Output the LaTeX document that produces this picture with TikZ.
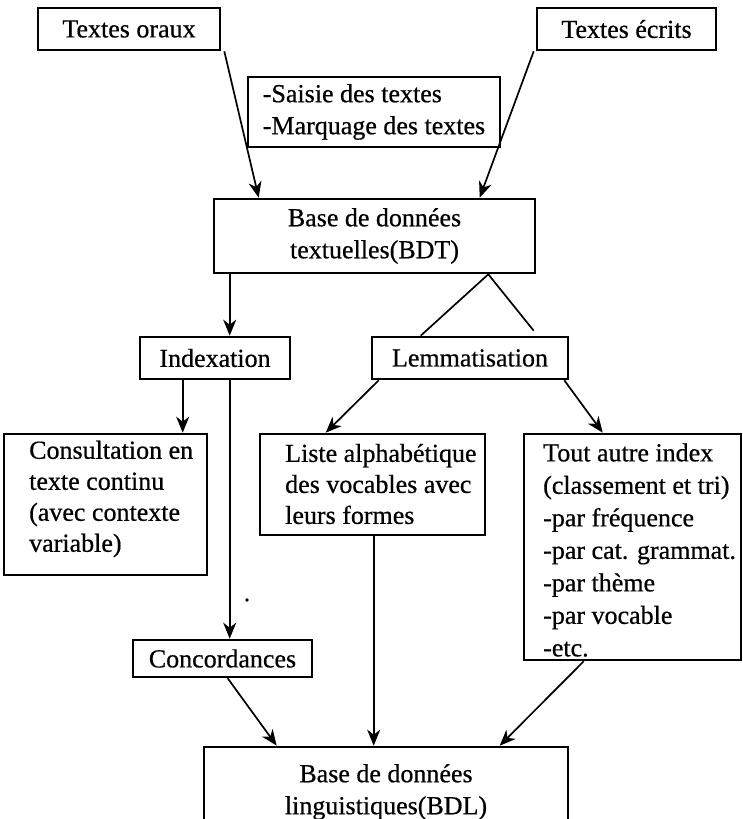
\documentclass[tikz,border=0pt]{standalone}
\usepackage{fontspec}
\setmainfont{Liberation Serif}[FakeBold=0.6]
\usetikzlibrary{arrows.meta,calc}
\begin{document}
\begin{tikzpicture}[x=1pt,y=-1pt,
  box/.style={draw, line width=2.6pt, inner sep=0pt, font=\fontsize{26}{32}\selectfont},
  txt/.style={inner sep=0pt, align=left, anchor=west, font=\fontsize{26}{31}\selectfont},
  conn/.style={line width=1.7pt},
  arr/.style={conn, -{Stealth[length=16pt,width=13pt,inset=5pt]}}]
\useasboundingbox (0,0) rectangle (743,819);
\clip (0,0) rectangle (743,819);

% boxes
\node[box, minimum width=182pt, minimum height=42pt] (oraux) at (129,29) {Textes oraux};
\node[box, minimum width=179pt, minimum height=42pt] (ecrits) at (626.5,29) {Textes écrits};
\node[box, align=left, minimum width=252pt, minimum height=70pt] (saisie) at (374,112) {-Saisie des textes\\-Marquage des textes};
\node[box, align=center, minimum width=321pt, minimum height=74pt] (bdt) at (374.5,236) {Base de données\\textuelles(BDT)};
\node[box, minimum width=150pt, minimum height=42pt] (index) at (215,358) {Indexation};
\node[box, minimum width=196pt, minimum height=42pt] (lemma) at (470,358) {Lemmatisation};
\node[box, minimum width=203pt, minimum height=141pt] (cons) at (105.5,504.5) {};
\node[txt] (constxt) at (29,499) {Consultation en\\texte continu\\(avec contexte\\variable)};
\node[box, minimum width=225pt, minimum height=101pt] (liste) at (372.5,484.5) {};
\node[txt] (listetxt) at (285,484) {Liste alphabétique\\des vocables avec\\leurs formes};
\node[box, minimum width=217pt, minimum height=226pt] (tout) at (632.5,547) {};
\node[txt, font=\fontsize{26}{32.5}\selectfont] (touttxt) at (543,550) {Tout autre index\\(classement et tri)\\-par fréquence\\-par cat. grammat.\\-par thème\\-par vocable\\-etc.};
\node[box, minimum width=179pt, minimum height=37pt] (conc) at (222.5,658.5) {Concordances};
\node[box, align=center, minimum width=364pt, minimum height=90pt] (bdl) at (386,792) {Base de données\\linguistiques(BDL)};

% connectors
\draw[arr] ($(oraux.south east)+(3,0)$) -- ($(bdt.north west)+(46,0)$);
\draw[arr] ($(ecrits.south west)+(-2,0)$) -- ($(bdt.north west)+(267,0)$);
\draw[arr] ($(bdt.south west)+(17,0)$) -- ($(index.north west)+(91,0)$);
\coordinate (apex) at ($(bdt.south east)+(-48,0)$);
\draw[conn] ($(lemma.north west)+(50,0)$) -- (apex) -- ($(lemma.north west)+(163,-5)$);
\draw[arr] ($(index.south west)+(44,0)$) -- ($(cons.north west)+(180,0)$);
\draw[arr] ($(index.south west)+(91,0)$) -- ($(conc.north west)+(98,0)$);
\draw[arr] ($(lemma.south west)+(8,0)$) -- ($(liste.north west)+(67,0)$);
\draw[arr] ($(lemma.south east)+(-5,0)$) -- ($(tout.north west)+(80,0)$);
\draw[arr] ($(liste.south west)+(115,0)$) -- ($(bdl.north west)+(171,0)$);
\draw[arr] ($(conc.south west)+(96,0)$) -- ($(bdl.north west)+(74,0)$);
\draw[arr] ($(tout.south west)+(61,0)$) -- ($(bdl.north west)+(297,0)$);

% stray dot
\fill (247,600) circle (1.8pt);
\end{tikzpicture}
\end{document}
